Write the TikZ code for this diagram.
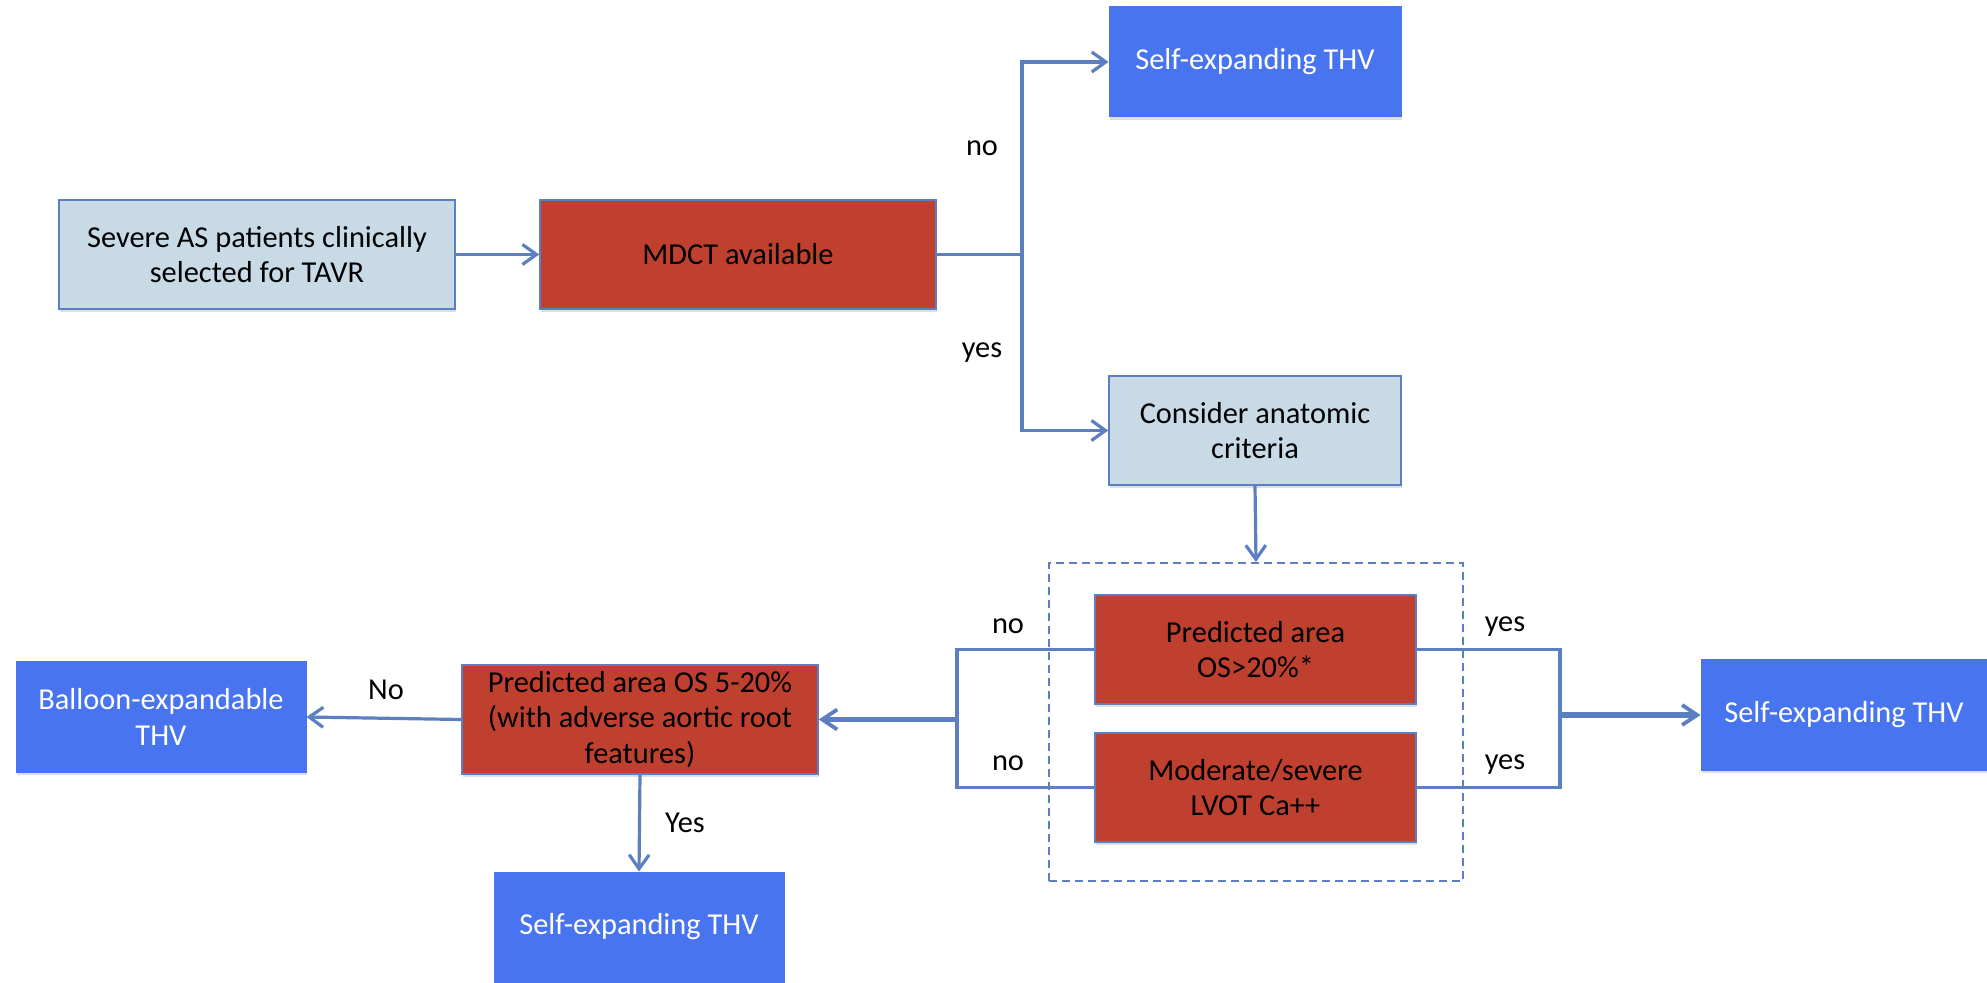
\documentclass[tikz,border=0pt]{standalone}
\usepackage{fontspec}
\setmainfont{Carlito}
\usetikzlibrary{arrows.meta,shadows}

\definecolor{linkblue}{HTML}{5B7FC0}
\definecolor{paleblue}{HTML}{C8DAE6}
\definecolor{brick}{HTML}{C0402F}
\definecolor{vivid}{HTML}{4874F0}

\tikzset{
  base/.style={rectangle, align=center, inner sep=2pt,
    font=\fontsize{15.2}{17.6}\selectfont,
    drop shadow={opacity=0.25, shadow xshift=0.6pt, shadow yshift=-1.6pt}},
  sz/.style 2 args={minimum width=#1*0.5pt, minimum height=#2*0.5pt},
  infobox/.style={base, fill=paleblue, draw=linkblue, line width=0.8pt},
  testbox/.style={base, fill=brick, draw=linkblue, line width=0.8pt},
  resultbox/.style={base, fill=vivid, draw=vivid, text=white, line width=0.5pt},
  link/.style={draw=linkblue, line width=1.6pt},
  arr/.style={link, -{Straight Barb[length=7pt,width=10pt,line width=1.6pt]}},
  thickarr/.style={draw=linkblue, line width=2.6pt,
    -{Straight Barb[length=7.5pt,width=10pt,line width=1.9pt]}},
  lbl/.style={font=\fontsize{15.2}{17.6}\selectfont, inner sep=0pt},
  groupframe/.style={draw=linkblue, line width=1pt, dash pattern=on 4pt off 2.5pt}
}

\begin{document}
\begin{tikzpicture}[x=0.5pt,y=-0.5pt]
  \useasboundingbox (0,0) rectangle (1987,983);

  % dashed frame grouping the two anatomic tests
  \node[groupframe, sz={414}{318}] (grp) at (1256,722) {};

  % boxes
  \node[infobox, sz={396}{109}] (sev) at (257,254.5)
    {Severe AS patients clinically\\selected for TAVR};
  \node[testbox, sz={396}{109}] (mdct) at (738,254.5) {MDCT available};
  \node[resultbox, sz={292}{110}] (se1) at (1255,62) {Self-expanding THV};
  \node[infobox, sz={292}{109}] (cons) at (1255,430.5)
    {Consider anatomic\\criteria};
  \node[testbox, sz={321}{109}] (pa) at (1255.5,649.5)
    {Predicted area\\OS>20\%*};
  \node[testbox, sz={321}{109}] (lv) at (1255.5,787.5)
    {Moderate/severe\\LVOT Ca++};
  \node[testbox, sz={356}{109}] (os) at (640,719.5)
    {Predicted area OS 5-20\%\\(with adverse aortic root\\features)};
  \node[resultbox, sz={290}{110}] (bal) at (161,717)
    {Balloon-expandable\\THV};
  \node[resultbox, sz={290}{110}] (se3) at (639,927) {Self-expanding THV};
  \node[resultbox, sz={286}{110}] (se2) at (1844,715) {Self-expanding THV};

  % junction points
  \coordinate (j1) at (1022,254.5);
  \coordinate (lbt) at (957,649.5);
  \coordinate (lbb) at (957,787.5);
  \coordinate (lbm) at (957,719.5);
  \coordinate (rbt) at (1560,649.5);
  \coordinate (rbb) at (1560,787.5);
  \coordinate (rbm) at (1560,715);

  % connectors
  \draw[arr] (sev.east) -- (mdct.west);
  \draw[link] (mdct.east) -- (j1);
  \draw[arr] (j1) |- (se1.west);
  \draw[arr] (j1) |- (cons.west);
  \draw[arr] (cons.south) -- (grp.north);

  \draw[link] (pa.west) -- (lbt) -- (lbb) -- (lv.west);
  \draw[link] (pa.east) -- (rbt) -- (rbb) -- (lv.east);
  \draw[thickarr] (lbm) -- (os.east);
  \draw[thickarr] (rbm) -- (se2.west);

  \draw[arr] (os.west) -- (bal.east);
  \draw[arr] (os.south) -- (se3.north);

  % branch labels
  \node[lbl] (lno1) at (982,148) {no};
  \node[lbl] (lyes1) at (982,353) {yes};
  \node[lbl] (lno2) at (1008,626) {no};
  \node[lbl] (lno3) at (1008,763) {no};
  \node[lbl] (lyes2) at (1505,627) {yes};
  \node[lbl] (lyes3) at (1505,765) {yes};
  \node[lbl] (lNo) at (386,690) {No};
  \node[lbl] (lYes) at (685,823) {Yes};
\end{tikzpicture}
\end{document}
